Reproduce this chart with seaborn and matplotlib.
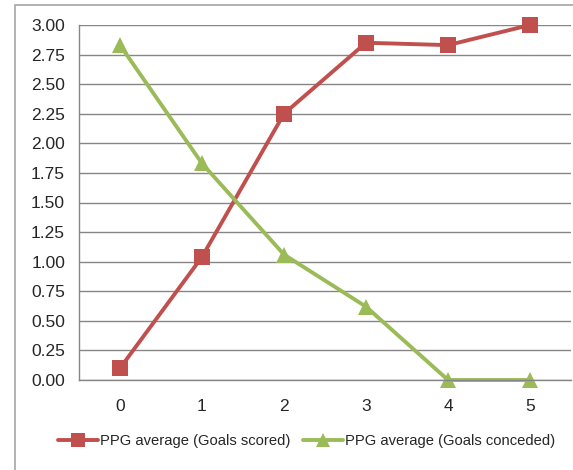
import numpy as np
import pandas as pd
import matplotlib
matplotlib.use("Agg")
import matplotlib.pyplot as plt
import seaborn as sns
from matplotlib.lines import Line2D

# goals in a match vs points-per-game average
goals = [0, 1, 2, 3, 4, 5]
ppg_scored = [0.10, 1.04, 2.25, 2.85, 2.83, 3.00]
ppg_conceded = [2.83, 1.83, 1.06, 0.62, 0.00, 0.00]
series_names = ["PPG average (Goals scored)", "PPG average (Goals conceded)"]
y_ticks = [0.00, 0.25, 0.50, 0.75, 1.00, 1.25, 1.50, 1.75, 2.00, 2.25, 2.50, 2.75, 3.00]

df = pd.DataFrame({
    "goals": goals * 2,
    "ppg": ppg_scored + ppg_conceded,
    "series": [series_names[0]] * len(goals) + [series_names[1]] * len(goals),
})

sns.set_style("white")
plt.rcParams['font.family'] = ['Liberation Sans', 'DejaVu Sans']

red = "#C0504D"
green = "#9BBB59"
grid_col = "#868686"

fig = plt.figure(figsize=(5.73, 4.70), dpi=100)
ax = fig.add_axes([79 / 573, 90 / 470, 492 / 573, 355 / 470])

# chart outer border like the spreadsheet frame
fig.patches.append(plt.Rectangle((15 / 573, -0.1), 1.2, (465 / 470) + 0.1, transform=fig.transFigure,
                                 fill=False, edgecolor="#A6A6A6", linewidth=1.2))

sns.lineplot(data=df, x="goals", y="ppg", hue="series", style="series",
             palette=[red, green], markers=["s", "^"], dashes=False,
             markersize=11, linewidth=2.8, markeredgewidth=0, ax=ax, legend=False)
for ln in ax.lines:
    ln.set_clip_on(False)

ax.set_xlim(-0.5, 5.5)
ax.set_ylim(0, 3.0)
ax.set_yticks(y_ticks)
ax.set_yticklabels([f"{v:.2f}" for v in y_ticks], fontsize=12.5, color="#262626")
ax.set_xticks(goals)
ax.set_xticklabels([str(g) for g in goals], fontsize=12.5, color="#262626")
ax.set_xticks(np.arange(-0.5, 6.0, 1.0), minor=True)
ax.tick_params(axis="x", which="major", length=0, pad=14)
ax.tick_params(axis="x", which="minor", length=5, width=1, color=grid_col, direction="out")
ax.tick_params(axis="y", length=5, width=1, color=grid_col, direction="out", pad=5)
ax.set_xlabel("")
ax.set_ylabel("")

ax.grid(axis="y", color=grid_col, linewidth=1)
ax.set_axisbelow(True)
for s in ["top", "right"]:
    ax.spines[s].set_visible(False)
for s in ["left", "bottom"]:
    ax.spines[s].set_color(grid_col)
    ax.spines[s].set_linewidth(1)

handles = [
    Line2D([0], [0], color=red, marker="s", markersize=10, linewidth=2.8, markeredgewidth=0),
    Line2D([0], [0], color=green, marker="^", markersize=10, linewidth=2.8, markeredgewidth=0),
]
fig.legend(handles, series_names, loc="center", bbox_to_anchor=(0.535, 29 / 470), ncol=2,
           frameon=False, fontsize=10.6, handlelength=2.7, handletextpad=0.1, columnspacing=0.9)

fig.savefig("out.png", dpi=100)
